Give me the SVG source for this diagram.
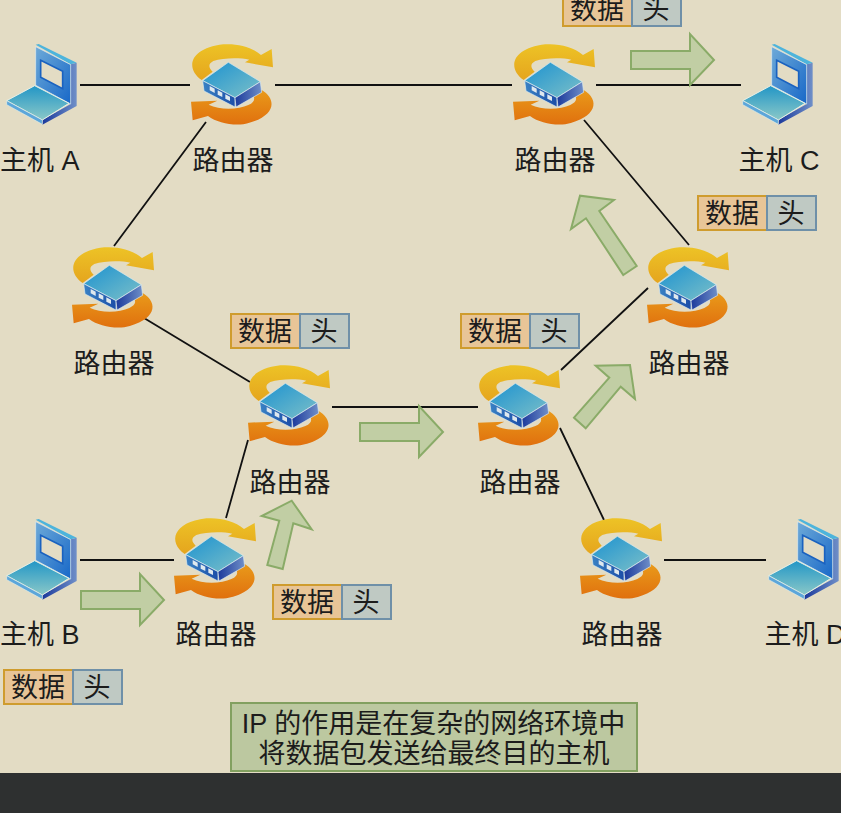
<svg xmlns="http://www.w3.org/2000/svg" xmlns:xlink="http://www.w3.org/1999/xlink" width="841" height="813" viewBox="0 0 841 813">
<style>
text{font-family:"Liberation Sans","Noto Sans CJK SC",sans-serif;font-size:27px;fill:#1c1c1c}
.m{text-anchor:middle}
.ln{stroke:#111;stroke-width:1.8;fill:none}
.ar{fill:#c1cea4;stroke:#8aab68;stroke-width:2}
.d{fill:#e8c597;stroke:#cf9c2e;stroke-width:2}
.h{fill:#bfc9c3;stroke:#6f90a8;stroke-width:2}
</style>
<defs>
<linearGradient id="gy" x1="0" y1="0" x2="0" y2="1"><stop offset="0" stop-color="#edc326"/><stop offset="1" stop-color="#e5a51e"/></linearGradient>
<linearGradient id="go" x1="0" y1="0" x2="0" y2="1"><stop offset="0" stop-color="#e99a1a"/><stop offset="1" stop-color="#e0700e"/></linearGradient>
<linearGradient id="gt" x1="0" y1="0" x2="1" y2="1"><stop offset="0" stop-color="#1c92d0"/><stop offset="1" stop-color="#7cc0c8"/></linearGradient>
<linearGradient id="gf" x1="0" y1="0" x2="1" y2="0"><stop offset="0" stop-color="#3a82c4"/><stop offset="1" stop-color="#1c4ea8"/></linearGradient>
<linearGradient id="gs" x1="0" y1="0" x2="1" y2="0"><stop offset="0" stop-color="#1c3a9c"/><stop offset="1" stop-color="#6f8fc8"/></linearGradient>
<linearGradient id="gb" x1="0" y1="0" x2="0" y2="1"><stop offset="0" stop-color="#2296c6"/><stop offset="1" stop-color="#8ac8c8"/></linearGradient>
<linearGradient id="gp" x1="0" y1="0" x2="1" y2="1"><stop offset="0" stop-color="#6eaad8"/><stop offset="1" stop-color="#1868c8"/></linearGradient>
<g id="router" transform="scale(.3333) translate(-156,-150)">
<path fill="url(#gy)" d="M65,135C15,100 28,40 130,28C170,25 215,35 243,60L275,42L279,97L195,82L208,74C180,68 130,68 100,78C84,87 85,97 98,110Z"/>
<path fill="url(#go)" d="M245,165C295,195 285,248 190,268C150,272 110,262 84,243L38,256L33,200L112,197L86,209C120,226 175,224 205,210C228,200 225,185 215,178Z"/>
<polygon fill="url(#gt)" stroke="#dcebf0" stroke-width="2" points="145,82 241,140 165,188 68,137"/>
<polygon fill="url(#gf)" stroke="#dcebf0" stroke-width="2" points="68,137 165,188 165,216 72,168"/>
<polygon fill="url(#gs)" stroke="#dcebf0" stroke-width="2" points="165,188 241,140 245,172 168,216"/>
<polygon fill="#dfe8ee" points="89,153 104,161 104,174 89,166"/>
<polygon fill="#dfe8ee" points="113,166 127,173 127,186 113,179"/>
<polygon fill="#dfe8ee" points="136,178 150,185 150,198 136,191"/>
</g>
<g id="host" transform="scale(.3333)">
<polygon fill="url(#gs)" points="212,103 230,98 230,228 127,284 127,270 212,222"/>
<polygon fill="#4db4dc" points="107,44 116,42 230,98 212,103"/>
<polygon fill="url(#gp)" stroke="#dcebf0" stroke-width="2" points="107,50 212,104 212,222 107,166"/>
<polygon fill="#e3dcc4" stroke="#1a62c0" stroke-width="5" points="122,91 188,124 188,176 122,142"/>
<polygon fill="url(#gb)" stroke="#e6efe6" stroke-width="3" points="20,212 104,167 207,220 127,270"/>
<polygon fill="#5ca6da" stroke="#e6efe6" stroke-width="2" points="20,212 127,270 127,283 20,224"/>
</g>
<polygon id="arrow" class="ar" points="0,-9 59,-9 59,-26 83,0 59,25 59,9 0,9"/>
<g id="pkt">
<rect class="d" x="0" y="0" width="69" height="34"/>
<rect class="h" x="69" y="0" width="49" height="34"/>
<text class="m" x="34" y="27">数据</text>
<text class="m" x="93" y="27">头</text>
</g>
</defs>
<rect width="841" height="813" fill="#e3dcc4"/>
<g id="connectors">
<path class="ln" d="M80,85H190M275,85H512M596,85H741M206,122L114,246M584,120L689,245M144,318L250,382M332,407H478M248,440L226,518M648,288L561,370M560,428L604,520M80,560H174M664,560H766"/>
</g>
<g id="flow-arrows">
<use xlink:href="#arrow" href="#arrow" transform="translate(631,60)"/>
<use xlink:href="#arrow" href="#arrow" transform="translate(360,432)"/>
<use xlink:href="#arrow" href="#arrow" transform="translate(81,600)"/>
<polygon class="ar" points="267.300,565 282.700,569 293.300,523.300 311.700,529.300 291.700,500.700 261.700,516 279.300,520.700"/>
<polygon class="ar" points="623.300,275 636.700,266 599.300,211 614,200 580,195.700 571,229 586,218.300"/>
<polygon class="ar" points="574,417.700 585.700,428.300 620.700,386.700 635,399 630,365 595.700,365.700 609.300,377.700"/>
</g>
<g id="host-a"><use href="#host" xlink:href="#host" transform="translate(0,30)"/><text x="0" y="170">主机 A</text></g>
<g id="host-c"><use href="#host" xlink:href="#host" transform="translate(736,30)"/><text x="738.500" y="170">主机 C</text></g>
<g id="host-b"><use href="#host" xlink:href="#host" transform="translate(0,505)"/><text x="0" y="644">主机 B</text></g>
<g id="host-d"><use href="#host" xlink:href="#host" transform="translate(762,505)"/><text x="764.500" y="644">主机 D</text></g>
<g id="router-1"><use href="#router" xlink:href="#router" transform="translate(232,85)"/><text class="m" x="233" y="170">路由器</text></g>
<g id="router-2"><use href="#router" xlink:href="#router" transform="translate(554,85)"/><text class="m" x="555" y="170">路由器</text></g>
<g id="router-3"><use href="#router" xlink:href="#router" transform="translate(113,288)"/><text class="m" x="114" y="373">路由器</text></g>
<g id="router-4"><use href="#router" xlink:href="#router" transform="translate(289,406)"/><text class="m" x="290" y="492">路由器</text></g>
<g id="router-5"><use href="#router" xlink:href="#router" transform="translate(519,406)"/><text class="m" x="520" y="492">路由器</text></g>
<g id="router-6"><use href="#router" xlink:href="#router" transform="translate(688,288)"/><text class="m" x="689" y="373">路由器</text></g>
<g id="router-7"><use href="#router" xlink:href="#router" transform="translate(215,559)"/><text class="m" x="216" y="644">路由器</text></g>
<g id="router-8"><use href="#router" xlink:href="#router" transform="translate(621,559)"/><text class="m" x="622" y="644">路由器</text></g>
<g id="packet-1"><use href="#pkt" xlink:href="#pkt" transform="translate(563,-8)"/></g>
<g id="packet-2"><use href="#pkt" xlink:href="#pkt" transform="translate(698,196)"/></g>
<g id="packet-3"><use href="#pkt" xlink:href="#pkt" transform="translate(231,314)"/></g>
<g id="packet-4"><use href="#pkt" xlink:href="#pkt" transform="translate(461,314)"/></g>
<g id="packet-5"><use href="#pkt" xlink:href="#pkt" transform="translate(273,585)"/></g>
<g id="packet-6"><use href="#pkt" xlink:href="#pkt" transform="translate(4,670)"/></g>
<g id="note">
<rect x="231" y="703" width="406" height="68" fill="#bcc8a0" stroke="#82a060" stroke-width="2"/>
<text class="m" x="433.500" y="733">IP 的作用是在复杂的网络环境中</text>
<text class="m" x="434" y="763">将数据包发送给最终目的主机</text>
</g>
<rect x="0" y="773" width="841" height="40" fill="#2e3030"/>
</svg>
